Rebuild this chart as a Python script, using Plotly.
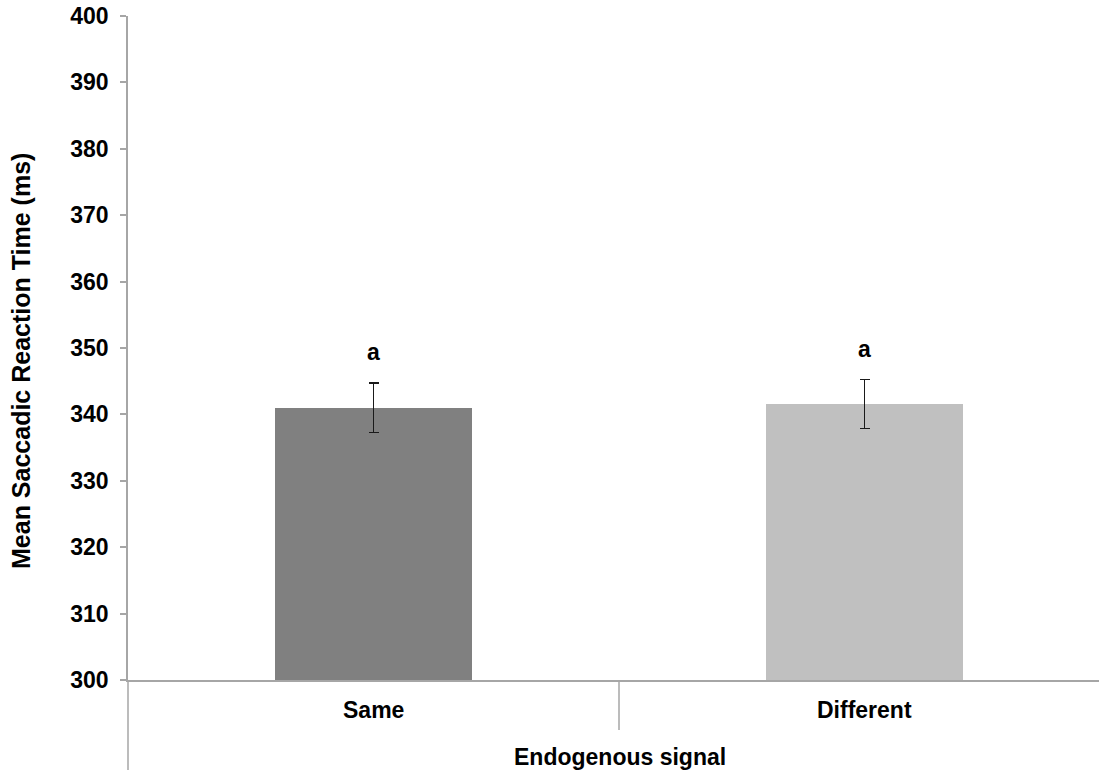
import plotly.graph_objects as go

categories = ["Same", "Different"]
means = [341.0, 341.55]
errors = [3.7, 3.7]
bar_colors = ["#808080", "#c0c0c0"]
sig_letters = ["a", "a"]
y_ticks = list(range(300, 401, 10))

W, H = 1099, 770
ML, MR, MT, MB = 128, 0, 16, 90
PW = W - ML - MR
PH = H - MT - MB
band = 491.0  # px per category band
x_positions = list(range(len(categories)))
x_range = [-0.5, -0.5 + PW / band]

FONT = "Liberation Sans, Arial, Helvetica, sans-serif"
FS = 23
AXC = "#a6a6a6"

fig = go.Figure()
fig.add_trace(go.Bar(
    x=x_positions, y=[m - 300 for m in means], base=300,
    width=0.4,
    marker=dict(color=bar_colors, line=dict(width=0)),
    error_y=dict(type="data", array=errors, visible=True,
                 color="#1a1a1a", thickness=1.5, width=5),
    showlegend=False, hoverinfo="skip",
))

for xi, m, e, s in zip(x_positions, means, errors, sig_letters):
    fig.add_annotation(x=xi, y=m + e, text=f"<b>{s}</b>", showarrow=False,
                       yanchor="middle", yshift=31,
                       font=dict(family=FONT, size=FS, color="#000"))

# category labels
for xi, c in zip(x_positions, categories):
    fig.add_annotation(x=xi, y=0, xref="x", yref="paper", text=f"<b>{c}</b>",
                       showarrow=False, yanchor="middle", yshift=-30,
                       font=dict(family=FONT, size=FS, color="#000"))

# x axis title
fig.add_annotation(x=(620 - ML) / PW, y=0, xref="paper", yref="paper",
                   text="<b>Endogenous signal</b>", showarrow=False,
                   yanchor="middle", yshift=-77,
                   font=dict(family=FONT, size=FS, color="#000"))
# y axis title
fig.add_annotation(x=(21 - ML) / PW, y=(680 - 361) / PH, xref="paper", yref="paper",
                   text="<b>Mean Saccadic Reaction Time (ms)</b>", showarrow=False,
                   textangle=-90, xanchor="center", yanchor="middle",
                   font=dict(family=FONT, size=25, color="#000"))

# category divider below axis
fig.add_shape(type="line", xref="x", yref="paper", x0=0.5, x1=0.5,
              y0=0, y1=-50 / PH, line=dict(color=AXC, width=1.5))
# y axis line continuation below plot
fig.add_shape(type="line", xref="paper", yref="paper", x0=0, x1=0,
              y0=0, y1=-MB / PH, line=dict(color=AXC, width=1.5))

fig.update_layout(
    width=W, height=H,
    margin=dict(l=ML, r=MR, t=MT, b=MB),
    plot_bgcolor="white", paper_bgcolor="white",
    font=dict(family=FONT, size=FS, color="#000"),
    bargap=0,
    xaxis=dict(range=x_range, showticklabels=False, ticks="",
               showline=True, linecolor=AXC, linewidth=1.5,
               showgrid=False, zeroline=False, fixedrange=True),
    yaxis=dict(range=[300, 400], tickvals=y_ticks,
               ticktext=[f"<b>{v}</b>" for v in y_ticks],
               ticks="outside", ticklen=6, tickcolor=AXC, tickwidth=1.5,
               ticklabelstandoff=7, ticklabeloverflow="allow",
               showline=True, linecolor=AXC, linewidth=1.5,
               showgrid=False, zeroline=False, fixedrange=True,
               tickfont=dict(family=FONT, size=FS, color="#000")),
)

fig.write_html("out.html", config={"displayModeBar": False},
               post_script="document.body.style.margin='0px';document.body.style.overflow='hidden';")
